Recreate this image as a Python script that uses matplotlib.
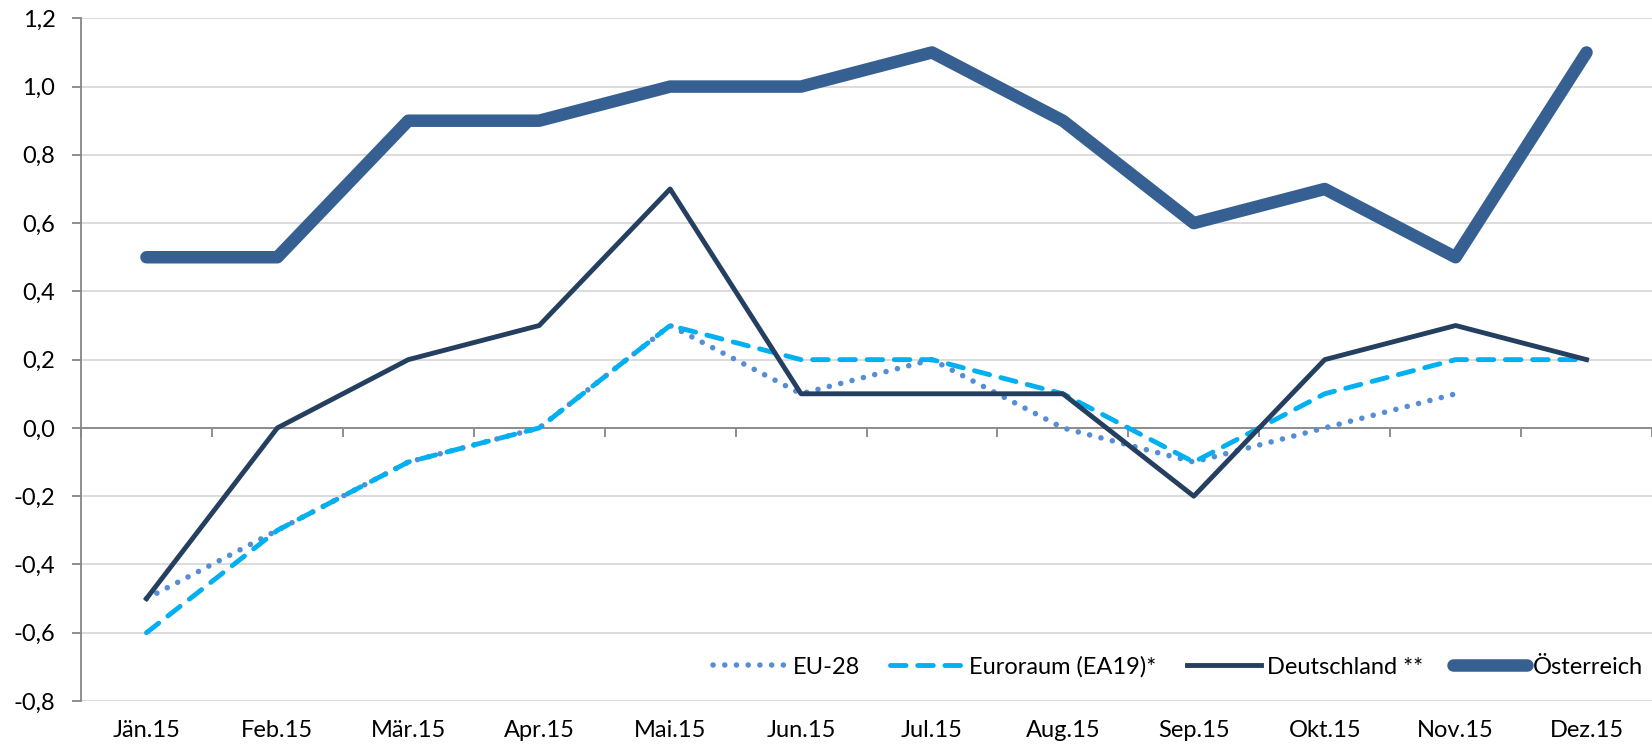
import numpy as np
import matplotlib
matplotlib.use("Agg")
import matplotlib.pyplot as plt

months = ["Jän.15", "Feb.15", "Mär.15", "Apr.15", "Mai.15", "Jun.15",
          "Jul.15", "Aug.15", "Sep.15", "Okt.15", "Nov.15", "Dez.15"]
eu28 = [-0.5, -0.3, -0.1, 0.0, 0.3, 0.1, 0.2, 0.0, -0.1, 0.0, 0.1, np.nan]
euroraum = [-0.6, -0.3, -0.1, 0.0, 0.3, 0.2, 0.2, 0.1, -0.1, 0.1, 0.2, 0.2]
deutschland = [-0.5, 0.0, 0.2, 0.3, 0.7, 0.1, 0.1, 0.1, -0.2, 0.2, 0.3, 0.2]
oesterreich = [0.5, 0.5, 0.9, 0.9, 1.0, 1.0, 1.1, 0.9, 0.6, 0.7, 0.5, 1.1]
yticks = [-0.8, -0.6, -0.4, -0.2, 0.0, 0.2, 0.4, 0.6, 0.8, 1.0, 1.2]

plt.rcParams['font.family'] = ['Lato', 'DejaVu Sans']
fig = plt.figure(figsize=(16.52, 7.49), dpi=100)
left = 81 / 1652
ax = fig.add_axes([left, (749 - 701) / 749, 1 - left, (701 - 18.3) / 749])

x = np.arange(len(months))
ax.plot(x, eu28, color="#558ED5", lw=4.0, linestyle=(0, (0.01, 2.1)),
        dash_capstyle='round', label="EU-28", zorder=3)
ax.plot(x, euroraum, color="#00B0F0", lw=3.5, linestyle=(0, (3.2, 2.4)),
        dash_capstyle='round', label="Euroraum (EA19)*", zorder=4)
ax.plot(x, deutschland, color="#243F60", lw=3.5, label="Deutschland **", zorder=5)
ax.plot(x, oesterreich, color="#376092", lw=9, solid_capstyle='round',
        solid_joinstyle='round', label="Österreich", zorder=6)

ax.set_ylim(-0.8, 1.2)
ax.set_xlim(-0.5, 11.43)
ax.set_yticks(yticks)
ax.set_yticklabels([f"{v:.1f}".replace(".", ",") for v in yticks], fontsize=17)
ax.yaxis.grid(True, color="#D9D9D9", lw=1.3)
ax.set_axisbelow(True)

for s in ["top", "right"]:
    ax.spines[s].set_visible(False)
ax.spines["left"].set_color("#868686")
ax.spines["left"].set_linewidth(1.3)
ax.spines["bottom"].set_position(("data", 0))
ax.spines["bottom"].set_color("#868686")
ax.spines["bottom"].set_linewidth(1.3)
ax.tick_params(axis="y", length=6.5, color="#868686", width=1.3, pad=12)
ax.set_xticks(np.arange(-0.5, 12, 1))
ax.tick_params(axis="x", length=6.5, color="#868686", width=1.3, labelbottom=False)

sec = ax.secondary_xaxis("bottom")
sec.set_xticks(x)
sec.set_xticklabels(months, fontsize=17)
sec.tick_params(length=0, pad=14)
sec.spines["bottom"].set_visible(False)

leg = ax.legend(loc="center right", ncol=4, frameon=False, fontsize=17,
                bbox_to_anchor=(1.0, (701 - 667) / (701 - 18.3)),
                handlelength=3.1, columnspacing=1.3,
                handletextpad=0.25, borderaxespad=0.0)

fig.savefig("out.png", dpi=100)
